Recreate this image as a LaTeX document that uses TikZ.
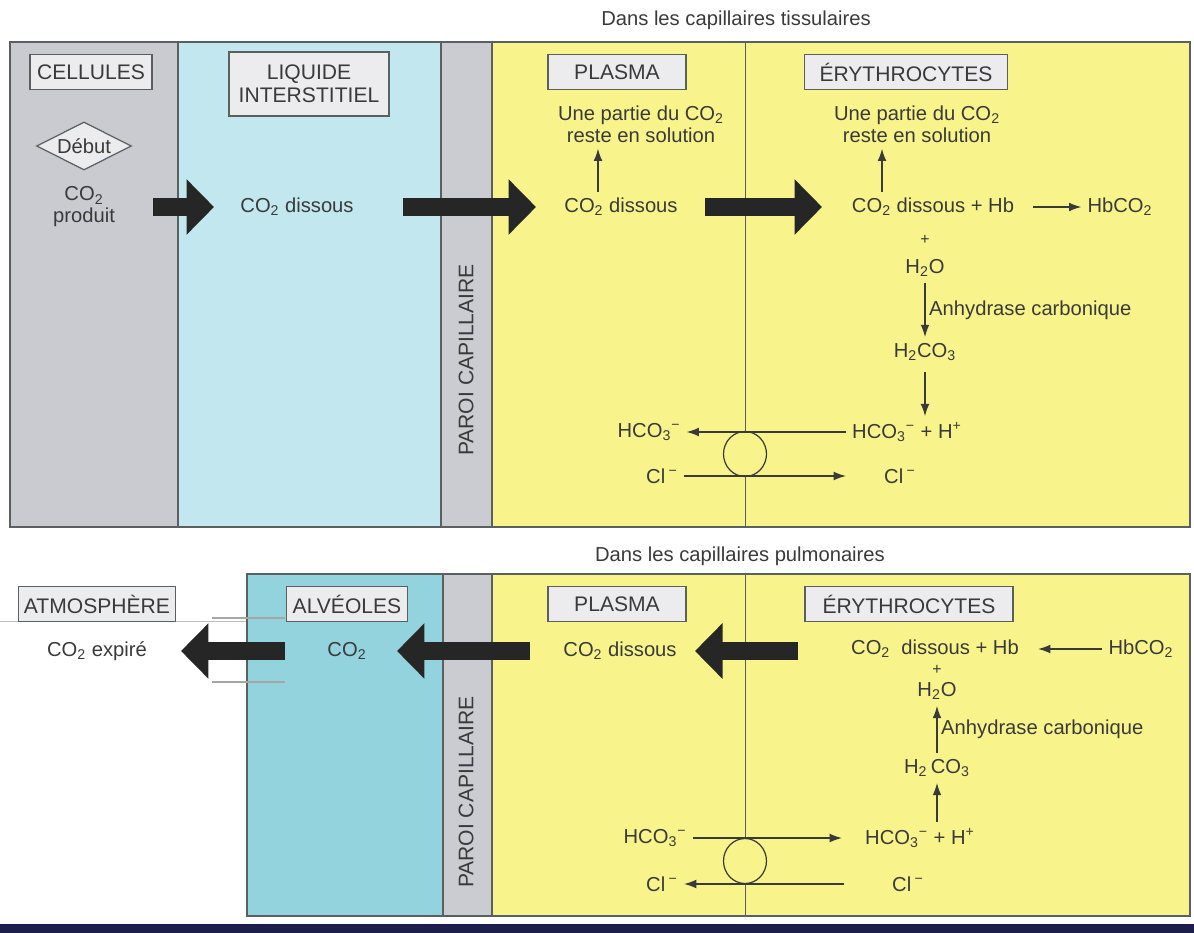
\documentclass[tikz,border=0pt]{standalone}
\usepackage{fontspec}
\setmainfont{Liberation Sans}
\usetikzlibrary{arrows.meta,shapes.geometric,positioning}

\definecolor{cellgray}{HTML}{C9CBD1}
\definecolor{liqblue}{HTML}{C2E7EF}
\definecolor{wallgray}{HTML}{CBCCD2}
\definecolor{plasyellow}{HTML}{F8F38A}
\definecolor{alvteal}{HTML}{93D3DE}
\definecolor{boxgray}{HTML}{ECECEE}
\definecolor{inkgray}{HTML}{3A3A3A}
\definecolor{framegray}{HTML}{5A6060}
\definecolor{navybar}{HTML}{1C1F4A}

\newcommand{\cotwo}{CO\textsubscript{2}}
\newcommand{\bicarb}{HCO\textsubscript{3}\textsuperscript{−}}

\begin{document}
\begin{tikzpicture}[x=0.02cm, y=-0.02cm,
            every node/.style={font=\fontsize{11.5}{12.5}\selectfont, text=inkgray},
            zone/.style={draw=framegray, line width=0.7pt},
            heading/.style={draw=framegray, fill=boxgray, line width=0.7pt, minimum height=0.7cm, align=center, font=\fontsize{12}{13}\selectfont},
            wall/.style={rotate=90, font=\fontsize{12}{13}\selectfont},
            plussign/.style={inner sep=0pt, font=\fontsize{9}{10}\selectfont},
            pump/.style={ellipse, draw=inkgray, fill=plasyellow, line width=0.7pt, minimum width=0.86cm, minimum height=0.9cm},
            fat/.style={draw=black!85, line width=0.36cm, -{Triangle[length=0.55cm,width=1.08cm]}},
            react/.style={draw=inkgray, line width=0.8pt, -{Latex[length=7pt,width=5pt]}}
        ]

% Fixed frame
            \useasboundingbox (0,0) rectangle (1194,933);

% Panel 1: tissue capillaries
            \fill[cellgray] (10,42) rectangle (178,527);
            \fill[liqblue] (178,42) rectangle (441,527);
            \fill[wallgray] (441,42) rectangle (492,527);
            \fill[plasyellow] (492,42) rectangle (1190,527);
            \draw[zone] (10,42) rectangle (1190,527);
            \foreach \x in {178,441,492} \draw[zone] (\x,42) -- (\x,527);
            \draw[zone, line width=0.5pt] (745,42) -- (745,527);

% Panel 2: lung capillaries
            \draw[gray!50, line width=0.5pt] (0,621) -- (247,621);
            \fill[alvteal] (247,574) rectangle (443,916);
            \fill[wallgray] (443,574) rectangle (492,916);
            \fill[plasyellow] (492,574) rectangle (1190,916);
            \draw[zone] (247,574) rectangle (1190,916);
            \foreach \x in {443,492} \draw[zone] (\x,574) -- (\x,916);
            \draw[zone, line width=0.5pt] (745,574) -- (745,916);
            \fill[navybar] (0,924) rectangle (1194,933);

% Titles and compartment headings
            \node (titre1) at (736,20) {Dans les capillaires tissulaires};
            \node (titre2) at (740,556) {Dans les capillaires pulmonaires};

            \node (cell) [heading, minimum width=2.44cm] at (91,72) {CELLULES};
            \node (liq) [heading, minimum width=3.2cm, minimum height=1.28cm] at (309,84) {LIQUIDE\\INTERSTITIEL};
            \node (plas1) [heading, minimum width=2.76cm] at (617,72) {PLASMA};
            \node (ery1) [heading, minimum width=4.06cm] at (906,72) {ÉRYTHROCYTES};

            \node (atmo) [heading, minimum width=3cm] at (97,604) {ATMOSPHÈRE};
            \node (alv) [heading, minimum width=2.3cm] at (347,604) {ALVÉOLES};
            \node (plas2) [heading, minimum width=2.76cm] at (617,604) {PLASMA};
            \node (ery2) [heading, minimum width=4.16cm] at (909,604) {ÉRYTHROCYTES};

            \node (paroi1) [wall] at (466,360) {PAROI CAPILLAIRE};
            \node (paroi2) [wall] at (466,792) {PAROI CAPILLAIRE};

% Panel 1 contents
            \node (debut) [diamond, draw=framegray, fill=boxgray, line width=0.7pt, aspect=2, inner sep=1pt, minimum width=1.9cm, minimum height=0.96cm] at (84,146) {Début};
            \node (prod) [align=center] at (84,207) {\cotwo\\produit};
            \node (diss1) at (297,207) {\cotwo{} dissous};
            \node (psol1) [align=center] at (641,124) {Une partie du \cotwo\\reste en solution};
            \node (pdiss1) at (621,207) {\cotwo{} dissous};
            \node (esol1) [align=center] at (917,124) {Une partie du \cotwo\\reste en solution};
            \node (ecomb1) at (933,207) {\cotwo{} dissous + Hb};
            \node (hb1) at (1120,207) {HbCO\textsubscript{2}};
            \node (plus1) [plussign] at (925,240) {+};
            \node (eau1) at (925,268) {H\textsubscript{2}O};
            \node (acide1) at (925,352) {H\textsubscript{2}CO\textsubscript{3}};
            \node (ions1) at (907,432) {\bicarb{} + H\textsuperscript{+}};
            \node (bicar1) at (649,432) {\bicarb};
            \node (chlg1) at (662,476) {Cl\,\textsuperscript{−}};
            \node (chld1) at (900,476) {Cl\,\textsuperscript{−}};
            \node (pompe1) [pump] at (745,454) {};

% Panel 2 contents
            \node (expire) at (97,651) {\cotwo{} expiré};
            \node (alvco) at (347,651) {\cotwo};
            \node (pdiss2) at (620,651) {\cotwo{} dissous};
            \node (ecomb2) at (935,649) {\cotwo\ \ dissous + Hb};
            \node (hb2) at (1141,649) {HbCO\textsubscript{2}};
            \node (plus2) [plussign] at (937,670) {+};
            \node (eau2) at (937,691) {H\textsubscript{2}O};
            \node (acide2) at (937,768) {H\textsubscript{2}\,CO\textsubscript{3}};
            \node (ions2) at (920,838) {\bicarb{} + H\textsuperscript{+}};
            \node (bicar2) at (655,838) {\bicarb};
            \node (chlg2) at (662,884) {Cl\,\textsuperscript{−}};
            \node (chld2) at (908,884) {Cl\,\textsuperscript{−}};
            \node (pompe2) [pump] at (745,861) {};

% Ends of the transfer arrows
            \coordinate (f1a) at (153,207);
            \coordinate (f1b) at (214,207);
            \coordinate (f2a) at (403,207);
            \coordinate (f2b) at (536,207);
            \coordinate (f3a) at (705,207);
            \coordinate (f3b) at (822,207);
            \coordinate (g1a) at (285,651);
            \coordinate (g1b) at (181,651);
            \coordinate (g2a) at (530,651);
            \coordinate (g2b) at (397,651);
            \coordinate (g3a) at (798,651);
            \coordinate (g3b) at (695,651);

% Transfer arrows
            \draw [fat] (f1a) -- (f1b);
            \draw [fat] (f2a) -- (f2b);
            \draw [fat] (f3a) -- (f3b);
            \draw [fat] (g1a) -- (g1b);
            \draw [fat] (g2a) -- (g2b);
            \draw [fat] (g3a) -- (g3b);
            \draw [gray!70, line width=0.6pt] (212,618) -- (285,618);
            \draw [gray!70, line width=0.6pt] (212,682) -- (285,682);

% Reactions, panel 1
            \draw [react] ([xshift=-0.46cm]pdiss1.north) -- ([xshift=-0.46cm]pdiss1.north |- psol1.south);
            \draw [react] ([xshift=-1.02cm]ecomb1.north) -- ([xshift=-1.02cm]ecomb1.north |- esol1.south);
            \draw [react, shorten <=0.26cm] (ecomb1.east) -- (hb1.west);
            \draw [react] (eau1) -- node [right, inner sep=2pt] {Anhydrase carbonique} (acide1);
            \draw [react, shorten <=0.1cm] (acide1.south) -- (acide1.south |- ions1.north);
            \draw [react] (ions1.west) -- (bicar1.east);
            \draw [react, shorten >=0.64cm] (chlg1.east) -- (chld1.west);

% Reactions, panel 2
            \draw [react, shorten >=0.26cm] (hb2.west) -- (ecomb2.east);
            \draw [react] (acide2) -- node [right, inner sep=2pt] {Anhydrase carbonique} (eau2);
            \draw [react] (ions2.north -| acide2.south) -- (acide2.south);
            \draw [react, shorten >=0.34cm] (bicar2.east) -- (ions2.west);
            \draw [react, shorten <=0.84cm] (chld2.west) -- (chlg2.east);

        \end{tikzpicture}
\end{document}
